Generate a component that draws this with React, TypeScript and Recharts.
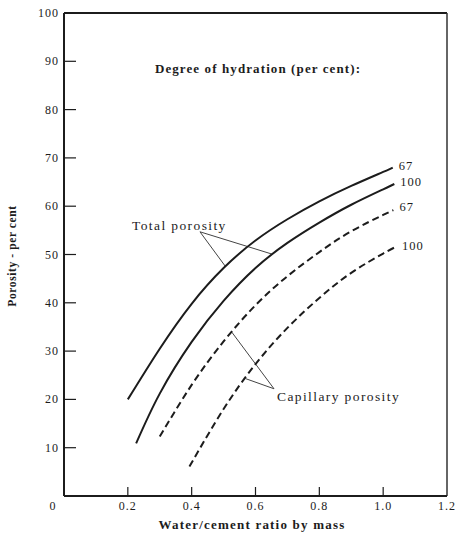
import React from 'react';
import { LineChart, Line, XAxis, YAxis, ReferenceLine } from 'recharts';

// water/cement ratio (x) and porosity in per cent (y)
const wcTotal67 = [0.2, 0.3, 0.4, 0.5, 0.6, 0.7, 0.8, 0.9, 1.0, 1.03];
const poreTotal67 = [20, 30.5, 39.8, 47.2, 52.9, 57.3, 61, 64.2, 67.1, 68.0];

const wcTotal100 = [0.226, 0.3, 0.4, 0.5, 0.6, 0.7, 0.8, 0.9, 1.0, 1.035];
const poreTotal100 = [10.9, 21.2, 31.9, 40.4, 47.2, 52.4, 56.6, 60.3, 63.5, 64.6];

const wcCap67 = [0.3, 0.4, 0.5, 0.6, 0.7, 0.8, 0.9, 1.0, 1.032];
const poreCap67 = [12.3, 23, 32, 39.5, 45.5, 50.5, 54.8, 58.2, 59.2];

const wcCap100 = [0.393, 0.5, 0.6, 0.7, 0.8, 0.9, 1.0, 1.04];
const poreCap100 = [6.1, 18, 27.3, 34.8, 41, 46.2, 50.2, 51.6];

const xTicks = [0, 0.2, 0.4, 0.6, 0.8, 1.0, 1.2];
const yTicks = [10, 20, 30, 40, 50, 60, 70, 80, 90, 100];

const toPoints = (xs: number[], ys: number[]) => xs.map((x, i) => ({ x, y: ys[i] }));

const total67 = toPoints(wcTotal67, poreTotal67);
const total100 = toPoints(wcTotal100, poreTotal100);
const cap67 = toPoints(wcCap67, poreCap67);
const cap100 = toPoints(wcCap100, poreCap100);

const FONT = '"Liberation Serif", "Times New Roman", serif';
const INK = '#1c1c1c';

const YTick = ({ x, y, payload }: any) => (
  <g>
    <line x1={x + 5} x2={x + 17} y1={y} y2={y} stroke={INK} strokeWidth={1.2} />
    <text x={x} y={y} textAnchor="end" dominantBaseline="central" fontFamily={FONT} fontSize={12} letterSpacing={1} fill={INK}>
      {payload.value}
    </text>
  </g>
);

const XTick = ({ x, y, payload }: any) => {
  const v = payload.value;
  const edge = v === 0 || v === 1.2;
  return (
    <g>
      {!edge && <line x1={x} x2={x} y1={y - 10} y2={y - 19} stroke={INK} strokeWidth={1.2} />}
      <text x={v === 0 ? x - 11 : x} y={y} textAnchor="middle" dominantBaseline="central" fontFamily={FONT} fontSize={12} letterSpacing={1} fill={INK}>
        {v === 0 ? '0' : v.toFixed(1)}
      </text>
    </g>
  );
};

const endLabel = (text: string, count: number, dy: number) => (props: any) => {
  const { x, y, index } = props;
  if (index !== count - 1) return null;
  return (
    <text key={text + dy} x={x + 6} y={y + dy} dominantBaseline="central" fontFamily={FONT} fontSize={12.5} letterSpacing={1} fill={INK}>
      {text}
    </text>
  );
};

export default function App() {
  return (
    <div style={{ position: 'absolute', left: 0, top: 0, background: '#fff' }}>
      <LineChart width={458} height={535} margin={{ top: 13, right: 11, left: 0, bottom: 0 }}>
        <XAxis
          type="number"
          dataKey="x"
          domain={[0, 1.2]}
          ticks={xTicks}
          height={39}
          tickSize={0}
          tickMargin={10}
          tickLine={false}
          tick={<XTick />}
          axisLine={{ stroke: INK, strokeWidth: 2 }}
          allowDuplicatedCategory={false}
        />
        <YAxis
          type="number"
          domain={[0, 100]}
          ticks={yTicks}
          width={64}
          tickSize={0}
          tickMargin={5}
          tickLine={false}
          tick={<YTick />}
          axisLine={{ stroke: INK, strokeWidth: 2 }}
        />
        <ReferenceLine y={100} stroke={INK} strokeWidth={2} />
        <ReferenceLine x={1.2} stroke="#333" strokeWidth={1.5} />

        {/* leader lines for the two annotations */}
        <ReferenceLine segment={[{ x: 0.426, y: 54.7 }, { x: 0.505, y: 47.6 }]} stroke="#444" strokeWidth={1} />
        <ReferenceLine segment={[{ x: 0.426, y: 54.7 }, { x: 0.651, y: 50.1 }]} stroke="#444" strokeWidth={1} />
        <ReferenceLine segment={[{ x: 0.658, y: 22.2 }, { x: 0.526, y: 33.9 }]} stroke="#444" strokeWidth={1} />
        <ReferenceLine segment={[{ x: 0.658, y: 22.2 }, { x: 0.569, y: 24.3 }]} stroke="#444" strokeWidth={1} />

        <Line data={total67} dataKey="y" type="natural" stroke={INK} strokeWidth={2} dot={false}
          label={endLabel('67', total67.length, -2)} isAnimationActive={false} />
        <Line data={total100} dataKey="y" type="natural" stroke={INK} strokeWidth={2} dot={false}
          label={endLabel('100', total100.length, -2)} isAnimationActive={false} />
        <Line data={cap67} dataKey="y" type="natural" stroke={INK} strokeWidth={2} strokeDasharray="7 4" dot={false}
          label={endLabel('67', cap67.length, -3)} isAnimationActive={false} />
        <Line data={cap100} dataKey="y" type="natural" stroke={INK} strokeWidth={2} strokeDasharray="7 4" dot={false}
          label={endLabel('100', cap100.length, -1)} isAnimationActive={false} />

        <text x={258} y={68} textAnchor="middle" dominantBaseline="central" fontFamily={FONT} fontSize={13} fontWeight="bold" letterSpacing={1.1} fill={INK}>
          Degree of hydration (per cent):
        </text>
        <text x={132} y={225} dominantBaseline="central" fontFamily={FONT} fontSize={13.5} letterSpacing={1.4} fill={INK}>
          Total porosity
        </text>
        <text x={277} y={396} dominantBaseline="central" fontFamily={FONT} fontSize={13.5} letterSpacing={1.4} fill={INK}>
          Capillary porosity
        </text>
        <text x={252} y={524} textAnchor="middle" dominantBaseline="central" fontFamily={FONT} fontSize={13} fontWeight="bold" letterSpacing={1.2} fill={INK}>
          Water/cement ratio by mass
        </text>
        <text x={12} y={256} textAnchor="middle" dominantBaseline="central" transform="rotate(-90 12 256)" fontFamily={FONT} fontSize={11.5} fontWeight="bold" letterSpacing={0.6} fill={INK}>
          Porosity - per cent
        </text>
      </LineChart>
    </div>
  );
}
